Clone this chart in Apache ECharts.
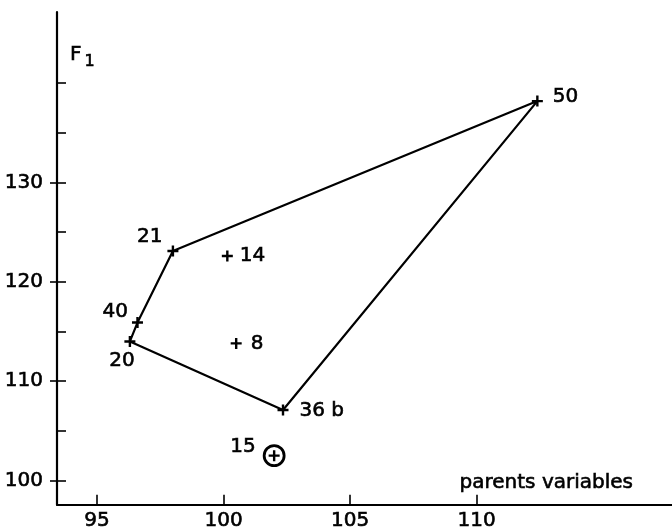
<!DOCTYPE html>
<html lang="en">
<head>
    <meta charset="UTF-8">
    <title>F1 vs parents variables</title>
    <style>
        html, body { margin: 0; padding: 0; background: #fff; }
        #main { width: 672px; height: 531px; }
    </style>
</head>
<body>
    <div id="main"></div>
</body>
<script src="https://cdn.jsdelivr.net/npm/echarts@6/dist/echarts.min.js"></script>
<script>
    // point names, parents value (x) and F1 value (y)
    var names = ['50', '21', '14', '40', '20', '8', '36 b', '15'];
    var parentVals = [112.4, 98.0, 100.15, 96.6, 96.3, 100.5, 102.35, 102.0];
    var f1Vals = [138.2, 123.1, 122.6, 115.9, 114.0, 113.8, 107.1, 102.5];
    // outline joining the outer points
    var hullOrder = ['21', '50', '36 b', '20', '40', '21'];
    var circled = ['15'];
    // ticks
    var xTicks = [95, 100, 105, 110];
    var yLabelTicks = [100, 110, 120, 130];
    var yTicks = [100, 105, 110, 115, 120, 125, 130, 135, 140];

    var font = 'DejaVu Sans';
    var ink = '#000';
    // a thin outline makes the lettering a bit heavier, like the print
    var heavy = { textBorderColor: ink, textBorderWidth: 0.6 };

    // where each label sits around its cross
    var labelPlace = {
        '50': { position: 'right', distance: 10, offset: [0, -4] },
        '21': { position: 'left', distance: 5, offset: [0, -14] },
        '14': { position: 'right', distance: 7, offset: [0, 0] },
        '40': { position: 'left', distance: 4, offset: [0, -11] },
        '20': { position: 'bottom', distance: 4, offset: [-8, 0] },
        '8': { position: 'right', distance: 9, offset: [0, 0] },
        '36 b': { position: 'right', distance: 11, offset: [0, 1] },
        '15': { position: 'left', distance: 13, offset: [0, -9] }
    };

    function pointOf(name) {
        var i = names.indexOf(name);
        return [parentVals[i], f1Vals[i]];
    }

    var crossData = names.map(function (n, i) {
        return {
            name: n,
            value: [parentVals[i], f1Vals[i]],
            label: labelPlace[n]
        };
    });
    var hullData = hullOrder.map(pointOf);
    var circleData = circled.map(pointOf);

    var plus = 'path://M4.3,0H6.7V4.3H11V6.7H6.7V11H4.3V6.7H0V4.3H4.3Z';

    var main = echarts.init(document.getElementById('main'));
    var option = {
        backgroundColor: '#fff',
        animation: false,
        grid: { left: 57, top: 12, right: 0, bottom: 25, containLabel: false },
        xAxis: {
            type: 'value',
            min: 93.42,
            max: 117.72,
            name: 'parents variables',
            nameLocation: 'end',
            nameGap: -39,
            nameTextStyle: Object.assign({
                fontFamily: font, fontSize: 20, color: ink,
                align: 'right', verticalAlign: 'bottom', lineHeight: 20,
                padding: [0, 0, 12, 0]
            }, heavy),
            splitLine: { show: false },
            axisLine: { onZero: false, lineStyle: { color: ink, width: 2.2 } },
            axisTick: { inside: true, length: 10, customValues: xTicks, lineStyle: { color: ink, width: 1.6 } },
            axisLabel: Object.assign({
                customValues: xTicks, margin: 6,
                fontFamily: font, fontSize: 20, color: ink
            }, heavy)
        },
        yAxis: [{
            type: 'value',
            min: 97.56,
            max: 147.17,
            name: '{f|F}{s|1}',
            nameLocation: 'end',
            nameGap: -28,
            nameTextStyle: {
                align: 'left', verticalAlign: 'top',
                padding: [0, 0, 0, 13],
                rich: {
                    f: Object.assign({ fontFamily: font, fontSize: 20, color: ink }, heavy),
                    s: Object.assign({ fontFamily: font, fontSize: 16, color: ink, padding: [14, 0, 0, 3] }, heavy)
                }
            },
            splitLine: { show: false },
            axisLine: { onZero: false, lineStyle: { color: ink, width: 2.2 } },
            axisTick: { inside: false, length: 7, customValues: yLabelTicks, lineStyle: { color: ink, width: 1.6 } },
            axisLabel: Object.assign({
                customValues: yLabelTicks, margin: 14,
                verticalAlign: 'middle', padding: [0, 0, 15, 0],
                fontFamily: font, fontSize: 20, color: ink
            }, heavy)
        }, {
            type: 'value',
            position: 'left',
            min: 97.56,
            max: 147.17,
            splitLine: { show: false },
            axisLine: { show: false },
            axisTick: { inside: true, length: 9, customValues: yTicks, lineStyle: { color: ink, width: 1.6 } },
            axisLabel: { show: false }
        }],
        series: [{
            type: 'line',
            data: hullData,
            symbol: 'none',
            silent: true,
            lineStyle: { color: ink, width: 2.2 }
        }, {
            type: 'scatter',
            data: circleData,
            symbol: 'circle',
            symbolSize: 20,
            silent: true,
            itemStyle: { color: 'rgba(0,0,0,0)', borderColor: ink, borderWidth: 2.8, opacity: 1 }
        }, {
            type: 'scatter',
            data: crossData,
            symbol: plus,
            symbolSize: 11,
            silent: true,
            itemStyle: { color: ink, opacity: 1 },
            label: Object.assign({
                show: true,
                formatter: '{b}',
                fontFamily: font,
                fontSize: 20,
                color: ink
            }, heavy)
        }]
    };
    main.setOption(option);
</script>
</html>
